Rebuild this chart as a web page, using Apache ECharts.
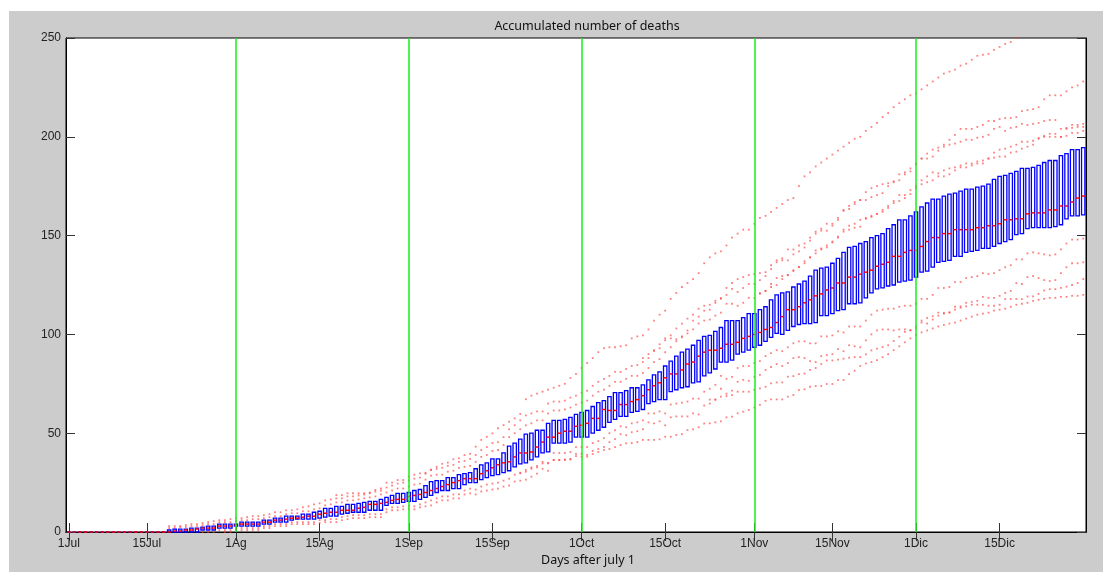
<!DOCTYPE html>
<html>
<head>
<meta charset="utf-8">
<script src="https://cdn.jsdelivr.net/npm/echarts@6/dist/echarts.min.js"></script>
<style>
html,body{margin:0;padding:0;background:#fff;}
#chart{position:absolute;left:9px;top:11px;width:1094px;height:561px;}
</style>
</head>
<body>
<div id="chart"></div>
<script>
// x axis: one box per day, day 1 = 1 July
var tickPos = [1,15,31,46,62,77,93,108,124,138,153,168];
var tickLabels = ['1Jul','15Jul','1Ag','15Ag','1Sep','15Sep','1Oct','15Oct','1Nov','15Nov','1Dic','15Dic'];
var monthLines = [31,62,93,124,153];
var yTicks = [0,50,100,150,200,250];

// box bottoms (25%), tops (75%) and medians, days 1..183
var q1 = [0,0,0,0,0,0,0,0,0,0,0,0,0,0,0,0,0,0,
	0,0,0,0,0,0,1,1,1,2, 2,2,3,3,3,3,3,4,4,5, 5,5,6,6.5,6.5,6.5,6.5,7,7.5,8,
	8,9,9.5,10,10,10,11,11,11,13.5, 14.5,14.5,15,15.5,15.5,16.5,17.5,18.5,20,21,
	21,22,22,24,25,25,26.5,27.5,28.5,29, 30,31,33,34.5,35,36.5,38,40,40.5,45,
	45,45,45.5,48,48,48,50,51.5,53,55.5, 57,58.5,58.5,60.5,61,62,65,66,67,67,
	71,72,73,73.5,75.5,76,79,80.5,82.5,86, 86,87,90,91,92,93.5,94.5,96.5,98.5,100.5,
	100,102,104,105,105.5,105.5,106,109.5,109.5,110.5, 112,112.5,115.5,115.5,116,118.5,121,123,123.5,124.5,
	125,126.5,127,127.5,129,131.5,132,134,136.5,137, 137.5,139.5,139.5,141.5,142,142.5,143.5,143.5,144.5,146,
	147,148,150.5,151,153.5,154,154,154,154,154.5, 155.5,158.5,160,160,160.5];
var q3 = [0,0,0,0,0,0,0,0,0,0,0,0,0,0,0,0,0,0,
	1,1.5,1.5,1.5,2,2,2.5,3,3,4, 4,4,4,5,5,5,5,6,6,7, 7,8,8,8,9,9,10,10.5,12,12,
	13,13,14,14,14.5,15,15.5,15.5,16.5,17.5, 18.5,19.5,19.5,20,21,21.5,23.5,25.5,26,26,
	27.5,27.5,29,29.5,30,32,34,35,37,37, 40,43.5,45,47,49.5,50,51.5,51.5,55,56.5,
	56.5,57,58,59.5,60.5,61.5,63.5,65.5,66.5,68.5, 70.5,70.5,71.5,73,73,74.5,77,79.5,81,84,
	86.5,89,91,92.5,94.5,97,99,99.5,101.5,103.5, 107,107,107,108.5,110.5,110.5,112.5,114,117.5,120,
	121,121.5,124,125.5,127,129.5,132.5,133.5,134,136, 138.5,141.5,144,144.5,146,147,149,150,151,153.5,
	155.5,158,158,160,162,164.5,166.5,168.5,168.5,170, 171,171.5,172.5,173.5,173.5,174.5,175,176,178.5,180,
	180.5,181.5,182.5,184,184,184.5,185.5,187,188,188, 190.5,191.5,193.5,193.5,194.5];
var med = [0,0,0,0,0,0,0,0,0,0,0,0,0,0,0,0,0,0,
	0,0.5,0.5,1,1,1.5,2,2,2,3, 3,3,3.5,4,4,4,4,5,5,6, 6,6.5,7,7,7.5,8,8,9,9.5,10,
	10,11,11,11,12,12.5,14,14,14.5,15, 16,16.5,16.5,18,18.5,19,20,21,22,23,
	24,25,26,27,27,27,29.5,31,32.5,34, 35,35.5,38,40,40,40.5,43,45.5,48,48,
	50,51,51,53.5,54,55,57.5,57.5,62,61.5, 61.5,64.5,64.5,66,67,69,72,74,75.5,78,
	80,80,82,85,86,89,91,92,92,93, 95,95,96,98,99,100,101,102.5,103.5,106,
	109,112.5,112.5,114,116,117.5,119.5,120.5,122.5,123.5, 126,126,129,129,130.5,131.5,132.5,134.5,135.5,136.5,
	139.5,139.5,141.5,142.5,142.5,144.5,147,149,149,151, 151,153,153,153,153,154,154,155,155,156,
	158,158,158.5,158.5,161,161.5,161.5,161.5,163,163, 165,165,167,169,170];

// outlier dots just above / below the boxes, days 19..183
var nearStart = 19;
var nearUp1 = [2,2,2.5,2.5,3,3,3.5,4,4,5, 5,5,5.5,6,6,6.5,6.5,7,7.5,8,
	8,9,9.5,9.5,10.5,10.5,11.5,12,13.5,14, 15,15,16,16,16.5,17,17.5,18,19,20,
	21,22,22,23,24,24.5,26.5,28.5,29,29, 30.5,31,32.5,33,33.5,35.5,38,39,41,41.5,
	44,48,50,52,54,55,56.5,56.5,60,61.5, 61.5,62,63,64.5,65.5,66.5,69,71,72,74,
	76,76,77.5,79,79,80.5,83,86,87.5,91, 93.5,96.5,98.5,100.5,102.5,105.5,107,107.5,109.5,111,
	115.5,115.5,114.5,116,118.5,118.5,120.5,122,125.5,128.5, 129.5,130,132.5,134,136,139,142.5,143.5,144,146.5,
	149,153,155,156,158,158.5,160,161,162,165, 167.5,170.5,170.5,173,175,178,180,182,181.5,183,
	184,184.5,185.5,186.5,186.5,187.5,188,189,192,193.5, 194,195,196,197.5,197.5,198,199,200.5,201.5,201.5,
	200,200.5,202,202,203];
var nearUp2 = [3,3,3,3.5,4,4,4.5,5,5.5,6, 6,6.5,7,7,7.5,8,8,8.5,9,10,
	10,11,11,11.5,12.5,13,14,14.5,16,16.5, 17,17,18,18,18.5,19,20,20.5,21,22.5,
	23.5,24.5,25,26,27,27.5,29.5,31.5,32,32.5, 33.5,34,35.5,36,37,39,41.5,43,45,45.5,
	48,52,54,56.5,59,60,61,61,65,66, 66,66.5,68,69,70.5,71.5,74,76,77.5,79,
	81,81,82.5,84,84.5,86,88,91.5,93,97, 99.5,103,105.5,108,110,113,114.5,115,117,118.5,
	123.5,123,121.5,123.5,125.5,125.5,127.5,129.5,133,136.5, 137.5,137.5,140.5,142,144,147.5,151,152.5,152.5,155,
	158,162.5,165,166,168,168,169.5,170.5,171.5,175, 177.5,181,181,184,186.5,189,191.5,193.5,193,195,
	196,196.5,197.5,198.5,198.5,199.5,200,201,204,205, 203,204.5,205,206.5,206,206.5,207,208,208.5,208.5,
	204,204.5,206,206,206.5];
var nearLow1 = [null,null,null,null,null,null,0,0,0,1, 1,1,2,2,2,2,2,3,3,4,
	4,4,5,5,5,5,5,6,6,6.5, 6.5,7.5,8,8.5,8.5,8.5,9,9,9,11.5,
	12.5,12.5,13,13,13,14,15,16,17,18, 18,19,19,21,22,21.5,23,24,24.5,25,
	26,27,29,30,30.5,32,33.5,35.5,35,40, 40,40,40.5,43,43,43,45,46,47.5,50,
	51.5,53.5,53,55,55.5,56.5,60,60,61,60, 64.5,65,65.5,66,67.5,67.5,71,72.5,74.5,79,
	77.5,78.5,83,84,84,85.5,86.5,89,90.5,92, 91.5,93.5,95.5,96.5,96.5,95.5,95.5,99,99,99.5,
	101.5,101,104,104,104,107,110,112,112.5,113, 113,114,114.5,114.5,115.5,118,118,120,123.5,123.5,
	124,126.5,126.5,128.5,129,129.5,131,130.5,131,132.5, 134,135,138,138,141,141.5,141,140.5,140,140.5,
	143,146,148,148,148.5];
var nearLow2 = [null,null,null,null,null,null,null,null,null,null, 0,0,1,1,1,1,1,2,2,3,
	3,3,4,4,4,4,4,4.5,5,5, 5,6,6.5,7,7,7,7.5,7.5,7.5,10,
	11,11,11.5,11.5,11.5,12.5,13,13.5,15,16, 16,17,17,19,19.5,19,20.5,21,21.5,22,
	23,23.5,25.5,26,26.5,28,29.5,32,31,36.5, 36.5,36.5,37,39.5,39.5,39,41,42,43,45.5,
	47,49.5,49,50.5,51,52,55.5,55,56,54, 58,58.5,58.5,58.5,60,59.5,64,65,67,72.5,
	70,71.5,76,77,76.5,78.5,79.5,82,83.5,85, 84,85.5,88,88.5,88,86.5,86,89,89.5,90,
	92.5,91.5,94.5,94,93.5,97,100,102,102.5,102.5, 102,102.5,102.5,102,103,106,105.5,107.5,111,110.5,
	111,114,113.5,116,116.5,117,119,118.5,118.5,119.5, 121,122,126,125.5,129,129.5,128.5,127.5,127,127.5,
	131,134,136,136,136.5];

// single runs that stay outside the boxes (start day, daily values)
var upper1Start = 49;
var upper1 = [18.7,18.7,19.6,19.6,19.6,19.6,19.6,21.3,22.1,25,25,26.3,26.3,28,29,29.7,30,31.4,33,34.5,
	35.1,36.8,37.3,38.9,39.5,43.2,46.6,48.2,49.9,52.5,54.1,55.8,57.5,59.7,67.2,
	69,70,71,72,73,74,75,78,80,83, 85.5,88,91,93,93.5,93.5,94,94.5,98,99,
	99.5,102.5,107,110,112,118,121,124,126,128, 131,136,139,141,142,145,149,151,153,153,
	156,159,160,162,164,166,168,169,175,180, 182,185,187,189,191,193,195,197,199,200,
	203,205,207,210,212,215,217,219,221,222, 224,226,228,230,232,233,234,236,237,239,
	241,241.5,242,244,245.5,247,248,250];
var upper2Start = 104;
var upper2 = [88,90,92,95,98,98,97.5,99,102,107, 109,112,112.5,116,118,120,126,128,129,130,
	130.5,131,131.5,135,137.5,138.5,143,143,145,146, 149,152,153.5,156,156,159,163,163.5,167,168,
	172,174,175,176,176.5,177,178,182,182.5,186, 189,189,190,194.5,196,198.5,201,204,204,204,
	205,206,208,208,209,209.5,209.5,210,213,213.5, 214,215,219,221,221,221,223,225,226,228];
var upper3Start = 125;
var upper3 = [121,122,124,125,128,130,132,134,137,139, 141,143,145,147,149.5,152,153,154,154.5,159,
	159.5,161,163,164,166.5,167.5,169,171,174,176, 177,178,180,180,181,183,184.5,184.5,185.5,186.5,
	186.5,189,189.5,190,190,192,192.5,194,195,196, 199.5,200,200,200,200,204,204.5,205,205];
var lower1Start = 116;
var lower1 = [67,67,68.5,68.8,69.3,71,71,71,72,72.7, 73.5,75.2,75.7,75.7,78.6,78.9,79.9,80.2,82,83,
	85,86.8,86.8,87.2,87.7,88.2,88.5,88.5,89.9,91.9, 92.8,93.6,94.5,96.7,98.8,101.3,102.2,104,107,108.3,
	109.2,109.5,110.9,111.2,112.5,114.2,114.2,115,115,115, 114.5,114.5,115,117.9,117.9,117.9,117.9,119.2,119.2,120.5,
	122.2,122.9,122.9,123.5,124.2,125,126,128];
var lower2Start = 82;
var lower2 = [29.7,31.4,32.7,32.7,34.7,34.7,36.4,36.4,36.7,36.7, 38.4,38,38.1,39.5,40.5,41.5,42,43,44,44.9,
	45,45.5,46.6,46.6,46.6,46.9,48.2,48.2,49.1,49.5, 51.6,51.9,53,54.9,55,55.5,56,58,58.4,60.1,
	60.9,61.8,63,64.3,66.4,67.1,67.1,67.1,68.5,69.3, 71.8,72.2,73.5,73.9,73.9,74.9,74.9,76.9,76.9,79.9,
	81.6,84,85.3,86,87,88.5,90,92,94,96, 98,99.8,101,102,103,104,104.8,105.5,106,107,
	108,109,110,110.5,111,112,112.5,113,114,115, 115.5,116,117,117.5,118,118.5,118.5,119,119,119.5,119.5,120];

var boxData = [];
for (var i = 0; i < q1.length; i++) {
	boxData.push([i + 1, q1[i], q3[i], med[i]]);
}
function runDots(start, vals) {
	var out = [];
	for (var k = 0; k < vals.length; k++) {
		if (vals[k] != null) out.push([start + k, vals[k]]);
	}
	return out;
}
var dots = [].concat(
	runDots(nearStart, nearUp1), runDots(nearStart, nearUp2),
	runDots(nearStart, nearLow1), runDots(nearStart, nearLow2),
	runDots(upper1Start, upper1), runDots(upper2Start, upper2), runDots(upper3Start, upper3),
	runDots(lower1Start, lower1), runDots(lower2Start, lower2)
);

var chart = echarts.init(document.getElementById('chart'));
var axisFont = {color:'#222', fontSize:12, fontFamily:'"Liberation Sans", Arial, sans-serif'};
var option = {
	backgroundColor:'#cccccc',
	animation:false,
	grid:{left:57, right:17, top:27, bottom:40, show:true, backgroundColor:'#ffffff', borderColor:'#000', borderWidth:1},
	graphic:[
		{type:'text', x:578, y:15, style:{text:'Accumulated number of deaths', align:'center', verticalAlign:'middle', fill:'#111', font:'12.5px "Noto Sans", sans-serif'}},
		{type:'text', x:579, y:549, style:{text:'Days after july 1', align:'center', verticalAlign:'middle', fill:'#111', font:'12.5px "Noto Sans", sans-serif'}}
	],
	xAxis:[{
		type:'value', min:0.5, max:183.5, position:'bottom',
		axisLine:{show:true, lineStyle:{color:'#000', width:1}},
		axisTick:{show:true, inside:true, length:9, customValues:tickPos, lineStyle:{color:'#333'}},
		axisLabel:Object.assign({customValues:tickPos, margin:6, formatter:function(v){ return tickLabels[tickPos.indexOf(v)]; }}, axisFont),
		splitLine:{show:false}
	},{
		type:'value', min:0.5, max:183.5, position:'top',
		axisLine:{show:true, lineStyle:{color:'#000', width:1}},
		axisTick:{show:true, inside:true, length:9, customValues:tickPos, lineStyle:{color:'#333'}},
		axisLabel:{show:false},
		splitLine:{show:false}
	}],
	yAxis:[{
		type:'value', min:0, max:250, interval:50, position:'left',
		axisLine:{show:true, lineStyle:{color:'#000', width:1}},
		axisTick:{show:true, inside:true, length:9, lineStyle:{color:'#333'}},
		axisLabel:Object.assign({margin:5}, axisFont),
		splitLine:{show:false}
	},{
		type:'value', min:0, max:250, interval:50, position:'right',
		axisLine:{show:true, lineStyle:{color:'#000', width:1}},
		axisTick:{show:true, inside:true, length:9, lineStyle:{color:'#333'}},
		axisLabel:{show:false},
		splitLine:{show:false}
	}],
	series:[{
		type:'line', data:[], z:1, silent:true,
		markLine:{
			silent:true, symbol:'none', label:{show:false},
			lineStyle:{color:'#1aee1a', width:1.5, type:'solid'},
			data:monthLines.map(function(d){ return {xAxis:d}; })
		}
	},{
		type:'scatter', data:dots, z:3, silent:true,
		symbol:'rect', symbolSize:[1.8,1.8],
		itemStyle:{color:'#ff3c3c', opacity:0.65}
	},{
		type:'custom', data:boxData, z:4, silent:true,
		encode:{x:0, y:[1,2,3]},
		renderItem:function(params, api){
			var d = api.value(0);
			var a = api.coord([d - 0.3, api.value(2)]);
			var b = api.coord([d + 0.3, api.value(1)]);
			var ml = api.coord([d - 0.3, api.value(3)]);
			var mr = api.coord([d + 0.3, api.value(3)]);
			return {type:'group', children:[
				{type:'rect', shape:{x:a[0], y:a[1], width:b[0]-a[0], height:b[1]-a[1]}, style:{fill:'none', stroke:'#0000ff', lineWidth:1.3}},
				{type:'line', shape:{x1:ml[0], y1:ml[1], x2:mr[0], y2:mr[1]}, style:{stroke:'#ff0000', lineWidth:1.5}}
			]};
		}
	}]
};
chart.setOption(option);
</script>
</body>
</html>
